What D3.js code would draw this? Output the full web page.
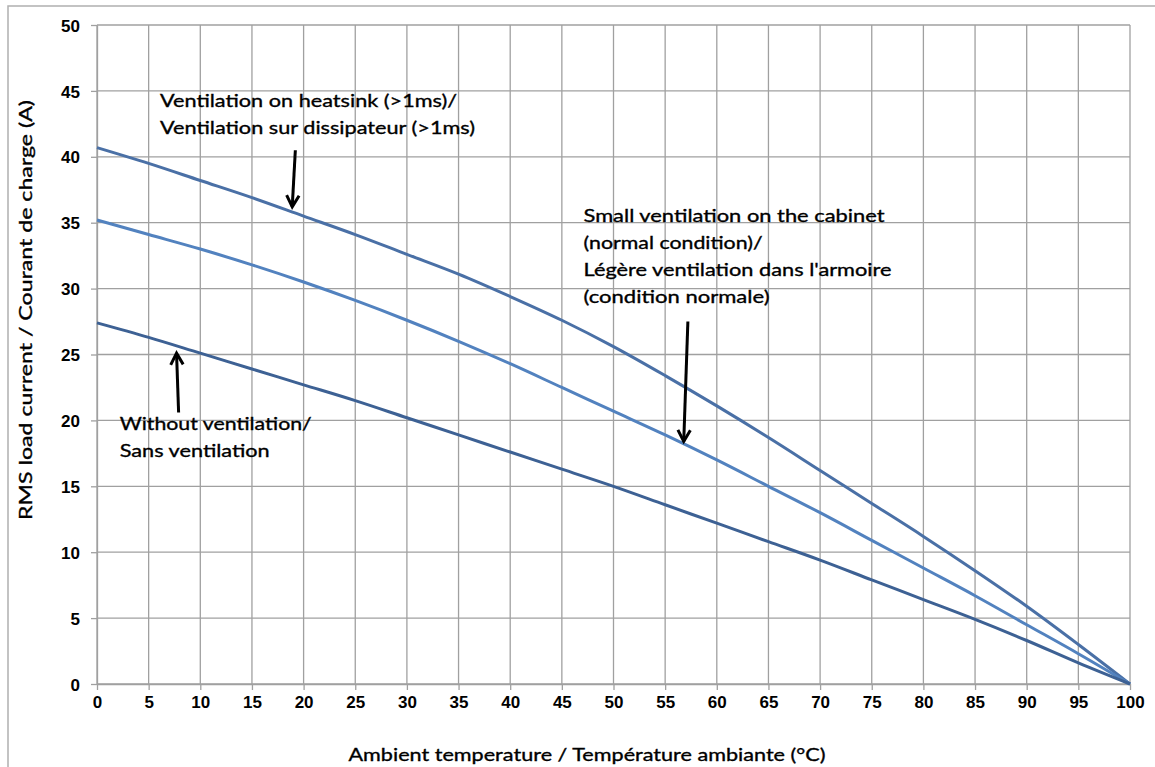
<!DOCTYPE html>
<html>
<head>
<meta charset="utf-8">
<script src="https://cdn.jsdelivr.net/npm/d3@7"></script>
<style>
  body { margin: 0; background: #fff; }
  .tick text { font-family: "Liberation Sans", Arial, sans-serif; font-weight: bold; font-size: 17px; fill: #000; }
  .note { font-family: Lato, "Open Sans", sans-serif; font-size: 18px; fill: #000; stroke: #000; stroke-width: 0.35px; }
</style>
</head>
<body>
<div id="chart"></div>
<script>
// Data (A vs °C)
var temps = [0, 5, 10, 15, 20, 25, 30, 35, 40, 45, 50, 55, 60, 65, 70, 75, 80, 85, 90, 95, 100];
var heatsink = [40.7, 39.5, 38.2, 36.9, 35.5, 34.1, 32.6, 31.1, 29.4, 27.6, 25.6, 23.4, 21.1, 18.7, 16.2, 13.7, 11.2, 8.6, 5.9, 3.0, 0];
var cabinet = [35.2, 34.1, 33.0, 31.8, 30.5, 29.1, 27.6, 26.0, 24.3, 22.5, 20.7, 18.9, 17.0, 15.0, 13.0, 10.9, 8.8, 6.7, 4.5, 2.3, 0];
var noVent = [27.4, 26.3, 25.1, 23.9, 22.7, 21.5, 20.2, 18.9, 17.6, 16.3, 15.0, 13.6, 12.2, 10.8, 9.4, 7.9, 6.4, 4.9, 3.3, 1.6, 0];

var xTicks = d3.range(0, 101, 5);
var yTicks = d3.range(0, 51, 5);

var seriesNames = ["heatsink", "cabinet", "noVent"];
var seriesColors = ["#4a70a6", "#5282bf", "#3d6194"];

// annotations: text lines, anchor in data units
var noteHeatsink = ["Ventilation  on heatsink (>1ms)/", "Ventilation sur dissipateur (>1ms)"];
var noteCabinet = ["Small ventilation  on the cabinet", "(normal condition)/", "Légère ventilation dans l'armoire", "(condition normale)"];
var noteNoVent = ["Without ventilation/", "Sans ventilation"];

var svgWidth = 1155;
var svgHeight = 767;
var margin = { top: 25, right: 25, bottom: 83, left: 97 };
var width = svgWidth - margin.left - margin.right;
var height = svgHeight - margin.top - margin.bottom;

var svg = d3.select("#chart")
  .append("svg")
  .attr("width", svgWidth)
  .attr("height", svgHeight);

// outer chart-area border
svg.append("rect")
  .attr("x", 8).attr("y", 6)
  .attr("width", svgWidth).attr("height", svgHeight)
  .attr("fill", "none")
  .attr("stroke", "#b0b0b0")
  .attr("stroke-width", 1.5);

var chartGroup = svg.append("g")
  .attr("transform", `translate(${margin.left}, ${margin.top})`);

var xScale = d3.scaleLinear().domain([0, 100]).range([0, width]);
var yScale = d3.scaleLinear().domain([0, 50]).range([height, 0]);

// gridlines
chartGroup.append("g")
  .selectAll("line")
  .data(xTicks)
  .enter()
  .append("line")
  .attr("x1", d => xScale(d)).attr("x2", d => xScale(d))
  .attr("y1", 0).attr("y2", height)
  .attr("stroke", "#a0a0a0").attr("stroke-width", 1.3);

chartGroup.append("g")
  .selectAll("line")
  .data(yTicks)
  .enter()
  .append("line")
  .attr("x1", 0).attr("x2", width)
  .attr("y1", d => yScale(d)).attr("y2", d => yScale(d))
  .attr("stroke", "#a0a0a0").attr("stroke-width", 1.3);

// axes
var bottomAxis = d3.axisBottom(xScale).tickValues(xTicks).tickSize(6).tickPadding(6).tickSizeOuter(0);
var leftAxis = d3.axisLeft(yScale).tickValues(yTicks).tickSize(6).tickPadding(11).tickSizeOuter(0);

var gx = chartGroup.append("g")
  .attr("transform", `translate(0, ${height})`)
  .call(bottomAxis);
var gy = chartGroup.append("g")
  .call(leftAxis);
[gx, gy].forEach(function(g) {
  g.select(".domain").attr("stroke", "#a0a0a0").attr("stroke-width", 1.3);
  g.selectAll(".tick line").attr("stroke", "#a0a0a0").attr("stroke-width", 1.3);
});
gy.selectAll(".tick text").attr("dy", "0.36em");

// curves
var allSeries = [heatsink, cabinet, noVent];
var line = d3.line()
  .x(d => xScale(d[0]))
  .y(d => yScale(d[1]))
  .curve(d3.curveMonotoneX);

chartGroup.selectAll(".series")
  .data(allSeries)
  .enter()
  .append("path")
  .attr("class", (d, i) => "series " + seriesNames[i])
  .attr("d", d => line(temps.map((t, i) => [t, d[i]])))
  .attr("fill", "none")
  .attr("stroke", (d, i) => seriesColors[i])
  .attr("stroke-width", 3);

// annotation text
function addNote(lines, x, y, widths) {
  var t = chartGroup.append("g");
  lines.forEach(function(s, i) {
    t.append("text")
      .attr("class", "note")
      .attr("x", xScale(x))
      .attr("y", yScale(y) + i * 27)
      .attr("textLength", widths[i])
      .attr("lengthAdjust", "spacingAndGlyphs")
      .text(s);
  });
}
addNote(noteHeatsink, 6.1, 43.8, [297, 315]);
addNote(noteCabinet, 47.1, 35.05, [301, 179, 308, 186]);
addNote(noteNoVent, 2.2, 19.3, [192, 150]);

// arrows [x1, y1, x2, y2] tail -> tip, data units
var arrows = [
  [19.2, 40.5, 18.9, 36.2],
  [57.2, 27.5, 56.8, 18.4],
  [7.9, 20.6, 7.7, 25.1]
];
arrows.forEach(function(a) {
  var x1 = xScale(a[0]), y1 = yScale(a[1]), x2 = xScale(a[2]), y2 = yScale(a[3]);
  var ang = Math.atan2(y2 - y1, x2 - x1);
  var hl = 13, ha = 0.5;
  chartGroup.append("line")
    .attr("x1", x1).attr("y1", y1).attr("x2", x2).attr("y2", y2)
    .attr("stroke", "#000").attr("stroke-width", 3);
  chartGroup.append("path")
    .attr("d", `M${x2 - hl * Math.cos(ang - ha)},${y2 - hl * Math.sin(ang - ha)} L${x2},${y2} L${x2 - hl * Math.cos(ang + ha)},${y2 - hl * Math.sin(ang + ha)}`)
    .attr("fill", "none")
    .attr("stroke", "#000").attr("stroke-width", 3)
    .attr("stroke-linejoin", "miter");
});

// axis titles
svg.append("text")
  .attr("class", "note")
  .attr("x", 587).attr("y", 761)
  .attr("text-anchor", "middle")
  .attr("textLength", 477)
  .attr("lengthAdjust", "spacingAndGlyphs")
  .text("Ambient temperature / Température ambiante (°C)");

svg.append("text")
  .attr("class", "note")
  .attr("transform", "translate(32, 310) rotate(-90)")
  .attr("text-anchor", "middle")
  .attr("textLength", 420)
  .attr("lengthAdjust", "spacingAndGlyphs")
  .text("RMS load current / Courant de charge (A)");
</script>
</body>
</html>
